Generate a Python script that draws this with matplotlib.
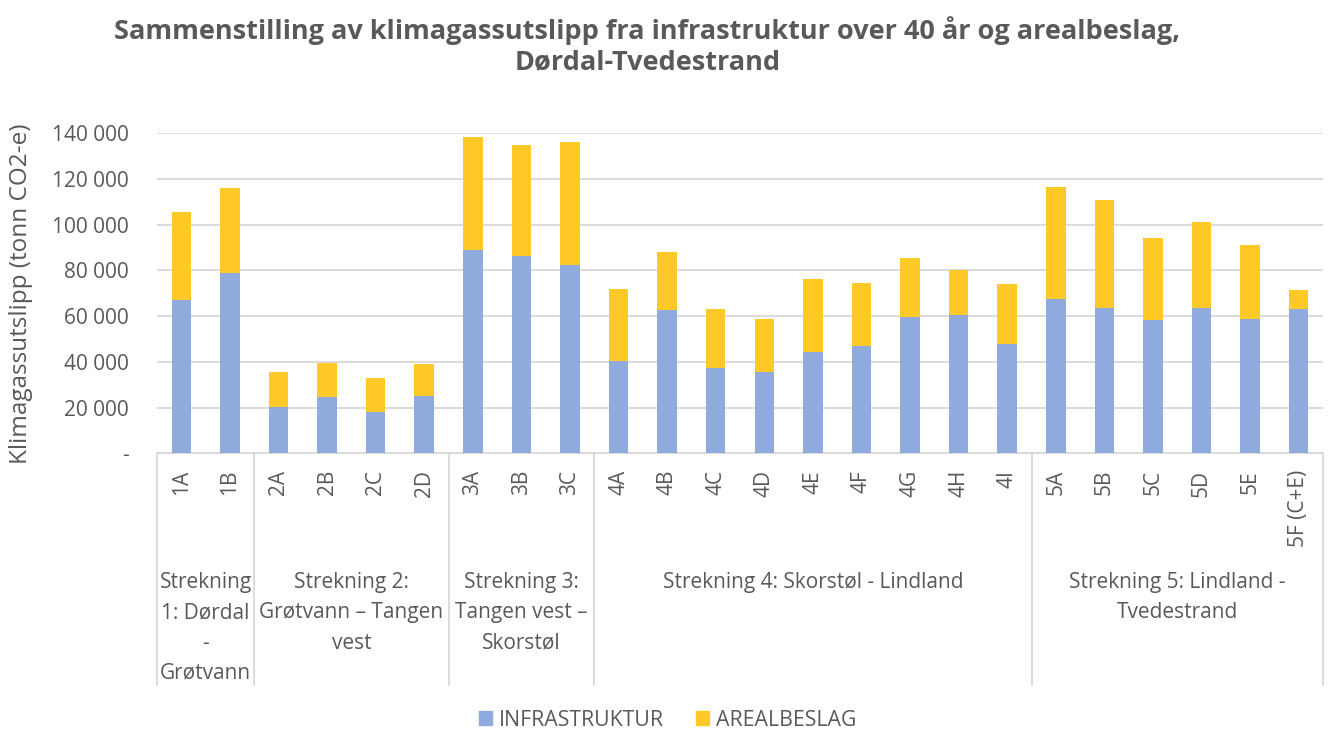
import numpy as np
import matplotlib
matplotlib.use("Agg")
import matplotlib.pyplot as plt
from matplotlib.patches import Patch
from matplotlib.ticker import FuncFormatter

plt.rcParams["font.family"] = ["Open Sans", "DejaVu Sans"]

# values (tonn CO2-e)
labels = ["1A", "1B", "2A", "2B", "2C", "2D", "3A", "3B", "3C",
          "4A", "4B", "4C", "4D", "4E", "4F", "4G", "4H", "4I",
          "5A", "5B", "5C", "5D", "5E", "5F (C+E)"]
infra = [66900, 78900, 20400, 24800, 18200, 25200, 89100, 86300, 82400,
         40500, 62600, 37500, 35400, 44500, 47100, 59500, 60500, 48000,
         67400, 63400, 58200, 63700, 58600, 63000]
total = [105600, 116100, 35600, 39700, 32800, 39100, 138200, 134900, 136200,
         71900, 87900, 63300, 58800, 76400, 74700, 85600, 80300, 73900,
         116400, 110800, 94300, 101200, 91100, 71400]
areal = [t - i for t, i in zip(total, infra)]

groups = ["Strekning\n1: Dørdal\n-\nGrøtvann",
          "Strekning 2:\nGrøtvann – Tangen\nvest",
          "Strekning 3:\nTangen vest –\nSkorstøl",
          "Strekning 4: Skorstøl - Lindland",
          "Strekning 5: Lindland -\nTvedestrand"]
group_sizes = [2, 4, 3, 9, 6]

BLUE = "#8FAADC"
YELLOW = "#FFCA28"
GREY = "#595959"
GRID = "#D9D9D9"

fig = plt.figure(figsize=(13.32, 7.31), dpi=100)
ax = fig.add_axes([157 / 1332, 1 - 453.3 / 731, (1323 - 157) / 1332, 320 / 731])

x = np.arange(len(labels))
ax.bar(x, infra, width=0.4, color=BLUE, zorder=3)
ax.bar(x, areal, width=0.4, bottom=infra, color=YELLOW, zorder=3)

ax.set_xlim(-0.5, len(labels) - 0.5)
ax.set_ylim(0, 140000)
ax.set_yticks(np.arange(0, 140001, 20000))
ax.yaxis.set_major_formatter(FuncFormatter(
    lambda v, p: "-" if v == 0 else f"{int(v):,}".replace(",", " ")))
ax.grid(axis="y", color=GRID, linewidth=1.3, zorder=0)
for s in ["top", "right", "left"]:
    ax.spines[s].set_visible(False)
ax.spines["bottom"].set_color(GRID)
ax.spines["bottom"].set_linewidth(1.3)
ax.tick_params(axis="y", length=0, pad=20, labelsize=15, labelcolor=GREY)

ax.set_xticks(x)
ax.set_xticklabels(labels, rotation=90, va="top", ha="center")
ax.tick_params(axis="x", length=0, pad=12, labelsize=15, labelcolor=GREY)

ax.set_ylabel("Klimagassutslipp (tonn CO2-e)", fontsize=17.5, color=GREY)
ax.yaxis.set_label_coords(-0.106, 0.5)

# multi-level category axis: separators and group names
trans = ax.get_xaxis_transform()
edges = np.concatenate([[0], np.cumsum(group_sizes)]) - 0.5
for e in edges:
    ax.plot([e, e], [0, -0.724], transform=trans, color=GRID, lw=1.3, clip_on=False)
for name, a, b in zip(groups, edges[:-1], edges[1:]):
    ax.text((a + b) / 2, -0.371, name, transform=trans, ha="center", va="top",
            fontsize=15, color=GREY, linespacing=1.58)

fig.suptitle("Sammenstilling av klimagassutslipp fra infrastruktur over 40 år og arealbeslag,\n"
             "Dørdal-Tvedestrand", x=0.486, y=0.978, fontsize=19.5, fontweight="bold",
             color=GREY, linespacing=1.2)

handles = [Patch(color=BLUE, label="INFRASTRUKTUR"), Patch(color=YELLOW, label="AREALBESLAG")]
leg = fig.legend(handles=handles, loc="center", bbox_to_anchor=(0.501, 1 - 720 / 731),
                 ncol=2, frameon=False, fontsize=15.3, handlelength=0.65, handleheight=0.65,
                 handletextpad=0.3, columnspacing=1.5)
for t in leg.get_texts():
    t.set_color(GREY)

fig.savefig("out.png", dpi=100)
